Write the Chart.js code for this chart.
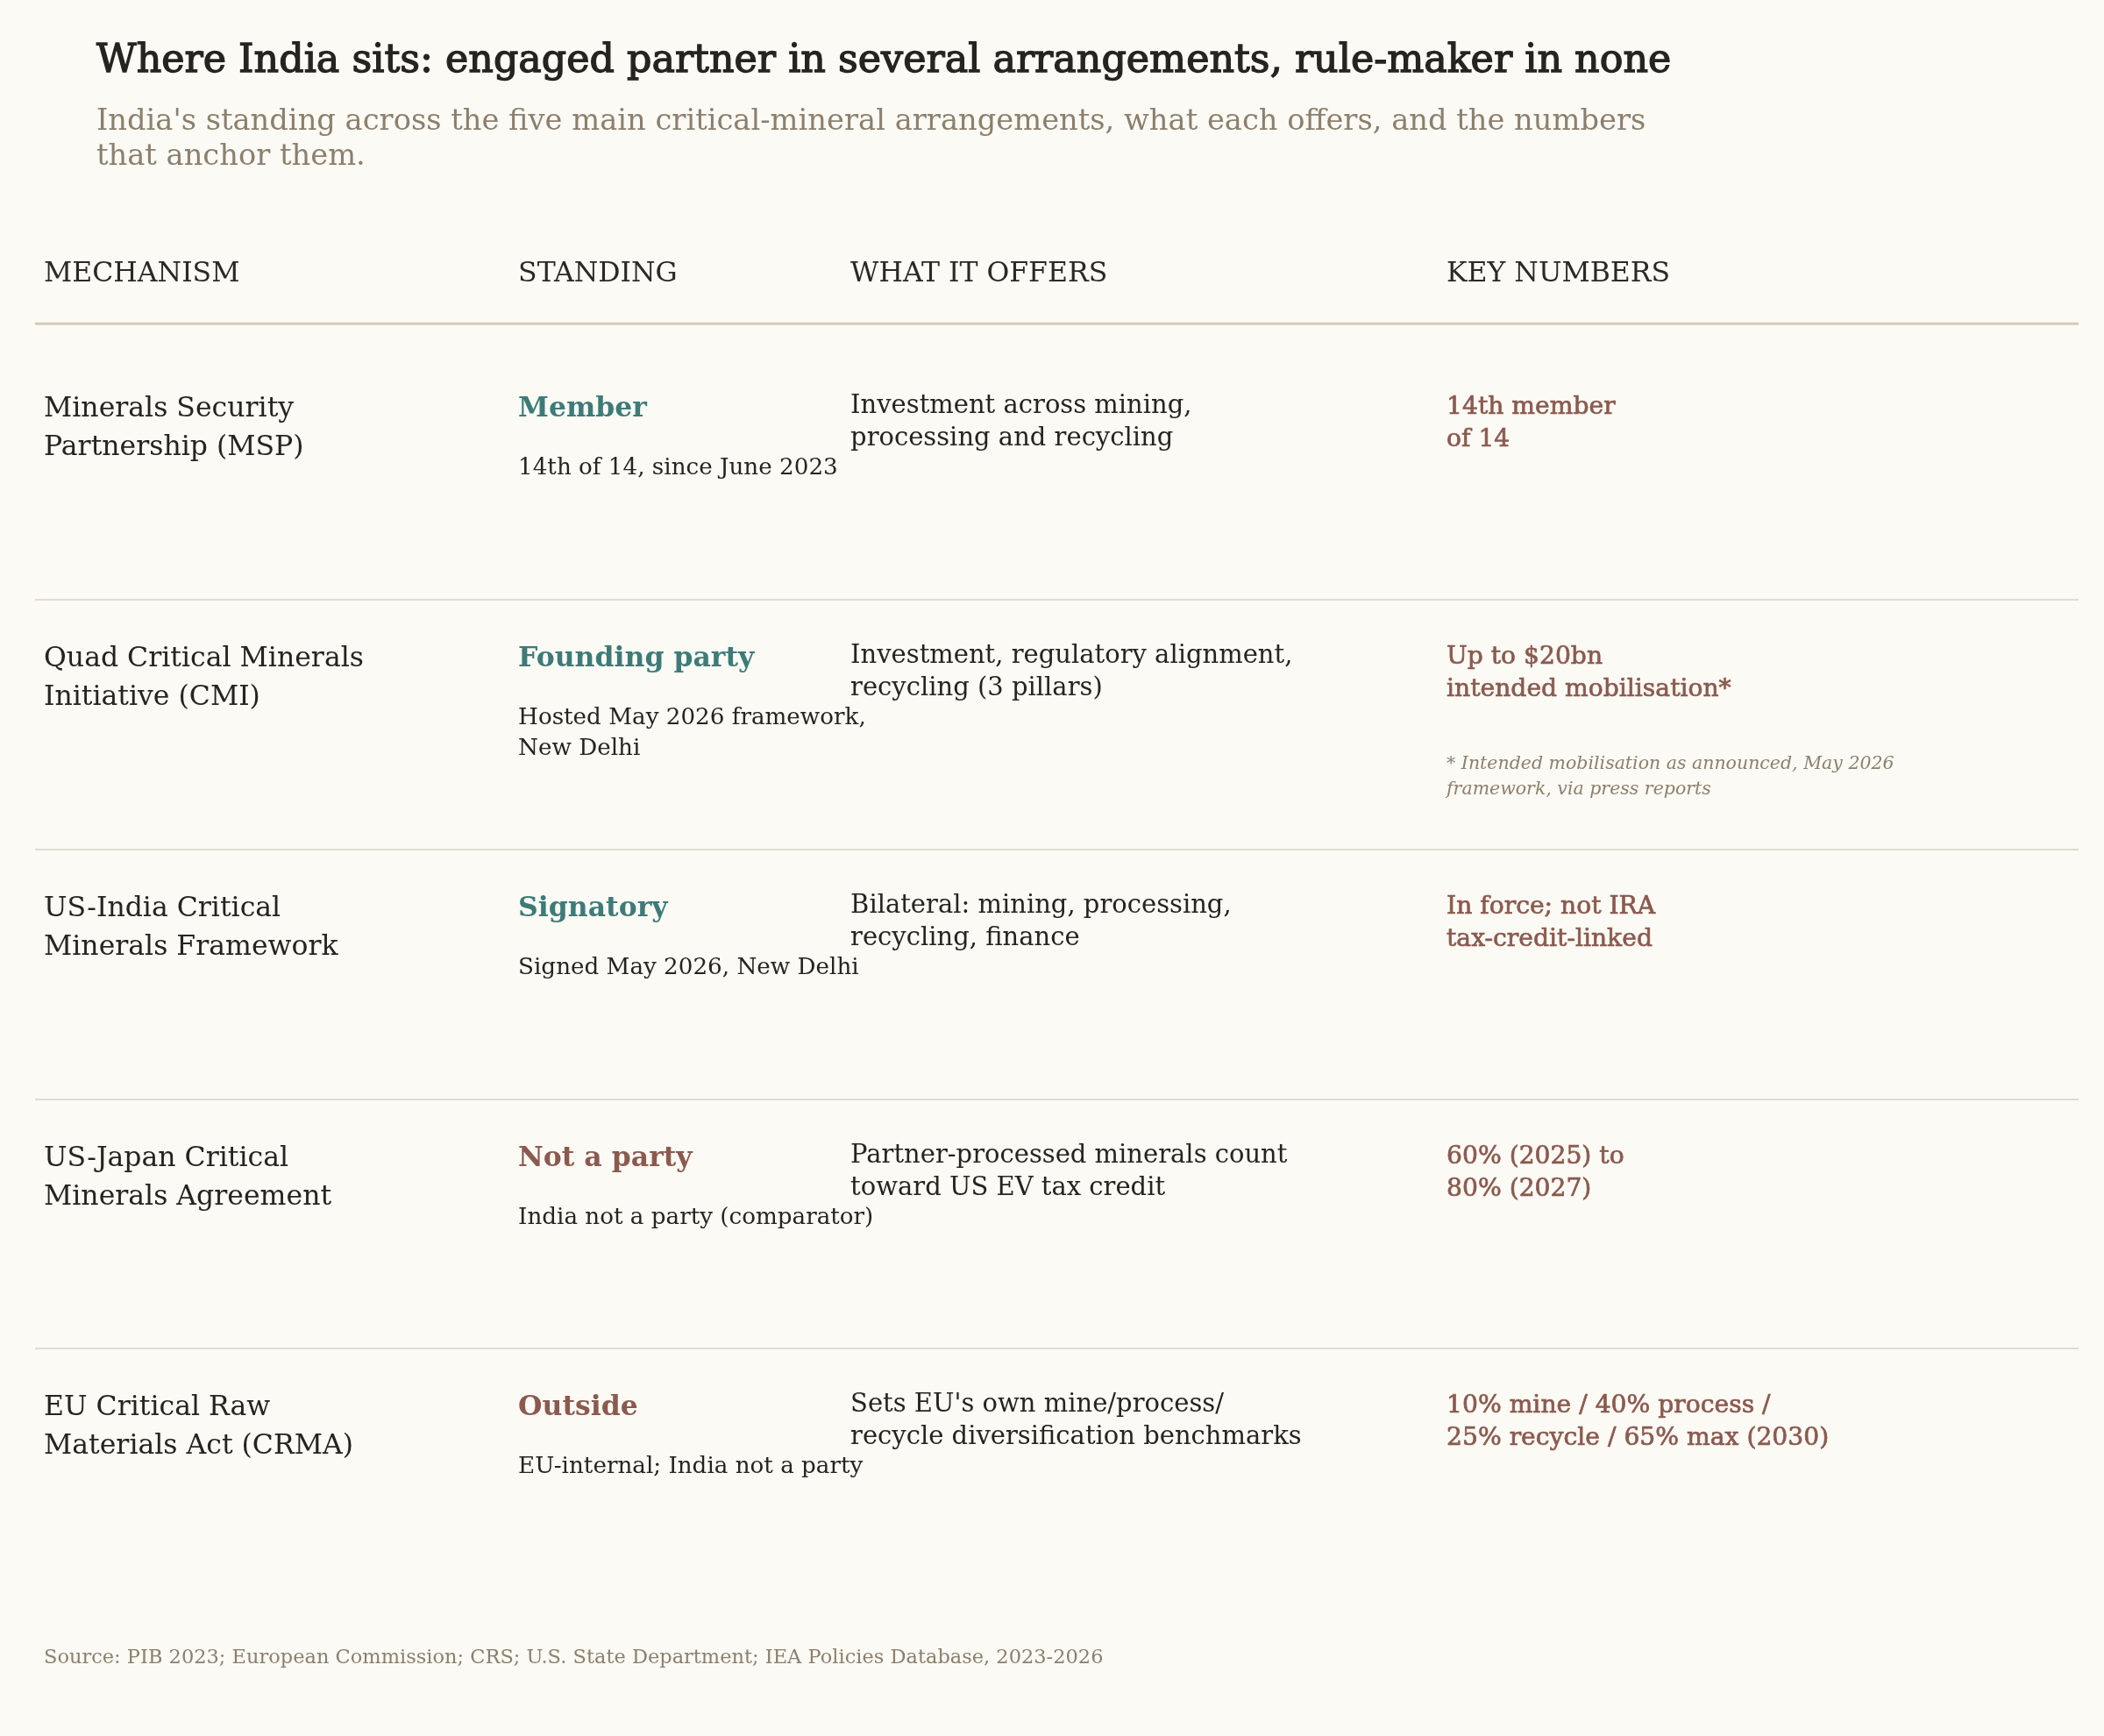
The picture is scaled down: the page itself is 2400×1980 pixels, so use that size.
<!DOCTYPE html>
<html>
<head>
<meta charset="utf-8">
<title>Where India sits</title>
<script src="https://cdn.jsdelivr.net/npm/chart.js@4.4.1/dist/chart.umd.min.js"></script>
<style>
    html, body { margin: 0; padding: 0; background: #fbfaf5; }
    #wrap { width: 2400px; height: 1980px; }
</style>
</head>
<body>
<div id="wrap"><canvas id="tableChart" width="2400" height="1980"></canvas></div>
<script>
const titleText = 'Where India sits: engaged partner in several arrangements, rule-maker in none';
const subtitleLines = [
    "India's standing across the five main critical-mineral arrangements, what each offers, and the numbers",
    'that anchor them.'
];
const sourceText = 'Source: PIB 2023; European Commission; CRS; U.S. State Department; IEA Policies Database, 2023-2026';

const columns = ['MECHANISM', 'STANDING', 'WHAT IT OFFERS', 'KEY NUMBERS'];

const mechanisms = [
    'Minerals Security\nPartnership (MSP)',
    'Quad Critical Minerals\nInitiative (CMI)',
    'US-India Critical\nMinerals Framework',
    'US-Japan Critical\nMinerals Agreement',
    'EU Critical Raw\nMaterials Act (CRMA)'
];
const standings = ['Member', 'Founding party', 'Signatory', 'Not a party', 'Outside'];
const isParty = [true, true, true, false, false];
const standingNotes = [
    '14th of 14, since June 2023',
    'Hosted May 2026 framework,\nNew Delhi',
    'Signed May 2026, New Delhi',
    'India not a party (comparator)',
    'EU-internal; India not a party'
];
const offers = [
    'Investment across mining,\nprocessing and recycling',
    'Investment, regulatory alignment,\nrecycling (3 pillars)',
    'Bilateral: mining, processing,\nrecycling, finance',
    'Partner-processed minerals count\ntoward US EV tax credit',
    "Sets EU's own mine/process/\nrecycle diversification benchmarks"
];
const keyNumbers = [
    '14th member\nof 14',
    'Up to $20bn\nintended mobilisation*',
    'In force; not IRA\ntax-credit-linked',
    '60% (2025) to\n80% (2027)',
    '10% mine / 40% process /\n25% recycle / 65% max (2030)'
];
const footnotes = [
    '',
    '* Intended mobilisation as announced, May 2026\nframework, via press reports',
    '', '', ''
];

// layout: column starts in x-scale units (table width = 100)
const colStart = [0.43, 23.64, 39.9, 69.07];

const FONT = '"DejaVu Serif", serif';
const INK = '#262420';
const MUTED = '#8c7f6c';
const TEAL = '#3e7b78';
const RUST = '#8b5a4f';

function drawLines(ctx, text, x, y, lh) {
    text.split('\n').forEach(function (line, k) {
        ctx.fillText(line, x, y + k * lh);
    });
}

// fill + thin stroke, to get a weight between regular and bold
function drawHeavy(ctx, text, x, y, lh, w) {
    ctx.lineWidth = w;
    text.split('\n').forEach(function (line, k) {
        ctx.fillText(line, x, y + k * lh);
        ctx.strokeText(line, x, y + k * lh);
    });
}

const tablePlugin = {
    id: 'tablePlugin',
    beforeDraw(chart) {
        const ctx = chart.ctx;
        ctx.save();
        ctx.fillStyle = '#fbfaf5';
        ctx.fillRect(0, 0, chart.width, chart.height);
        ctx.restore();
    },
    afterDraw(chart) {
        const ctx = chart.ctx;
        const xs = chart.scales.x;
        const ys = chart.scales.y;
        const area = chart.chartArea;
        const top0 = ys.getPixelForValue(0);

        ctx.save();
        ctx.textBaseline = 'alphabetic';
        ctx.textAlign = 'left';

        // title + subtitle
        ctx.fillStyle = INK;
        ctx.strokeStyle = INK;
        ctx.font = '44.4px ' + FONT;
        drawHeavy(ctx, titleText, 110, 82, 0, 1.3);
        ctx.fillStyle = MUTED;
        ctx.font = '33.7px ' + FONT;
        subtitleLines.forEach(function (line, k) {
            ctx.fillText(line, 110, 148 + k * 40);
        });

        // column headers
        ctx.fillStyle = '#2b2925';
        ctx.font = '31.5px ' + FONT;
        columns.forEach(function (c, j) {
            ctx.fillText(c, xs.getPixelForValue(colStart[j]), top0 - 78);
        });
        ctx.strokeStyle = '#d6cbb5';
        ctx.lineWidth = 3;
        ctx.beginPath();
        ctx.moveTo(area.left, top0 - 30);
        ctx.lineTo(area.right, top0 - 30);
        ctx.stroke();

        // rows
        mechanisms.forEach(function (m, i) {
            const top = ys.getPixelForValue(i);

            ctx.fillStyle = INK;
            ctx.font = '31.5px ' + FONT;
            drawLines(ctx, m, xs.getPixelForValue(colStart[0]), top + 76, 44);

            ctx.fillStyle = isParty[i] ? TEAL : RUST;
            ctx.font = 'bold 31.5px ' + FONT;
            ctx.fillText(standings[i], xs.getPixelForValue(colStart[1]), top + 76);

            ctx.fillStyle = INK;
            ctx.font = '26.2px ' + FONT;
            drawLines(ctx, standingNotes[i], xs.getPixelForValue(colStart[1]), top + 142, 35);

            ctx.font = '29px ' + FONT;
            drawLines(ctx, offers[i], xs.getPixelForValue(colStart[2]), top + 72, 37);

            ctx.fillStyle = RUST;
            ctx.strokeStyle = RUST;
            ctx.font = '28.2px ' + FONT;
            drawHeavy(ctx, keyNumbers[i], xs.getPixelForValue(colStart[3]), top + 73, 37, 0.7);

            if (footnotes[i]) {
                ctx.fillStyle = MUTED;
                ctx.font = 'italic 20.5px ' + FONT;
                drawLines(ctx, footnotes[i], xs.getPixelForValue(colStart[3]), top + 193, 29);
            }
        });

        // source
        ctx.fillStyle = MUTED;
        ctx.font = '22.5px ' + FONT;
        ctx.fillText(sourceText, 50, 1897);
        ctx.restore();
    }
};

document.addEventListener('DOMContentLoaded', function () {
    const ctx = document.getElementById('tableChart').getContext('2d');

    new Chart(ctx, {
        type: 'scatter',
        data: {
            datasets: [{
                label: 'rows',
                data: mechanisms.map(function (m, i) { return { x: colStart[0], y: i }; }),
                pointRadius: 0,
                showLine: false
            }]
        },
        options: {
            responsive: false,
            devicePixelRatio: 1,
            animation: false,
            layout: { padding: { top: 257, bottom: 157, left: 40, right: 29 } },
            plugins: {
                legend: { display: false },
                tooltip: { enabled: false },
                title: { display: false }
            },
            scales: {
                x: { type: 'linear', min: 0, max: 100, display: false },
                y: {
                    type: 'linear',
                    reverse: true,
                    min: -0.5,
                    max: 5,
                    afterBuildTicks: function (scale) {
                        scale.ticks = [1, 2, 3, 4].map(function (v) { return { value: v }; });
                    },
                    ticks: { display: false },
                    border: { display: false },
                    grid: { color: '#e2dccf', lineWidth: 2, drawTicks: false }
                }
            }
        },
        plugins: [tablePlugin]
    });
});
</script>
</body>
</html>
